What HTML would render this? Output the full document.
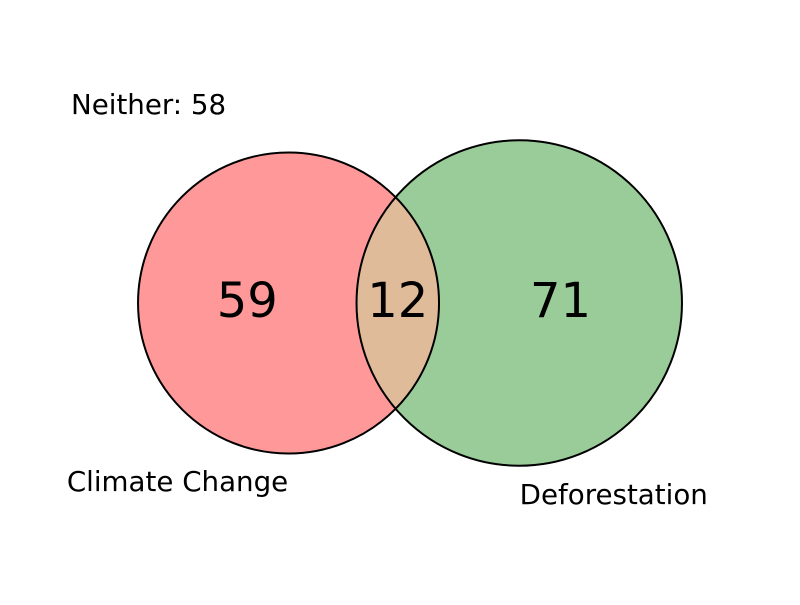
<!DOCTYPE html>
<html><head><meta charset="utf-8"><style>
html,body{margin:0;padding:0;background:#fff}
svg text{font-family:"DejaVu Sans","Liberation Sans",sans-serif;fill:#000}
</style></head><body>
<svg id="chart" width="800" height="600" viewBox="0 0 800 600"></svg>
<script>
const setLabels = ["Climate Change", "Deforestation"];
const regionCounts = [59, 12, 71]; // A only, both, B only
const neitherCount = 58;

const NS = "http://www.w3.org/2000/svg";
const svg = document.getElementById("chart");
function mk(tag, attrs){const e=document.createElementNS(NS,tag);for(const k in attrs)e.setAttribute(k,attrs[k]);svg.appendChild(e);return e;}

const totalA = regionCounts[0] + regionCounts[1];
const totalB = regionCounts[2] + regionCounts[1];
const k = 150.5 / Math.sqrt(71);
const rA = k * Math.sqrt(totalA);
const rB = k * Math.sqrt(totalB);
const overlapW = 82.5 * Math.sqrt(Math.max(regionCounts[1], 0) / 12);
const d = rA + rB - overlapW;
const cy = 303;
const cxA = 410 - (d + rB - rA) / 2;
const cxB = cxA + d;

const defs = mk("defs", {});
const cp = document.createElementNS(NS, "clipPath"); cp.setAttribute("id", "clipA"); defs.appendChild(cp);
const cc = document.createElementNS(NS, "circle"); cc.setAttribute("cx", cxA); cc.setAttribute("cy", cy); cc.setAttribute("r", rA); cp.appendChild(cc);

const cA = mk("circle", {cx: cxA, cy: cy, r: rA, fill: "#ff9999", stroke: "none"});


const cB = mk("circle", {cx: cxB, cy: cy, r: rB, fill: "#99cc99", stroke: "none"});


const ov = mk("circle", {cx: cxB, cy: cy, r: rB, fill: "#dfbb99", "clip-path": "url(#clipA)"});


const oA = mk("circle", {cx: cxA, cy: cy, r: rA, fill: "none", stroke: "#000", "stroke-width": 2});


const oB = mk("circle", {cx: cxB, cy: cy, r: rB, fill: "none", stroke: "#000", "stroke-width": 2});



const aL = cxA - rA, aR = cxA + rA, bL = cxB - rB, bR = cxB + rB;
const xs = [(aL + bL) / 2, (bL + aR) / 2, (aR + bR) / 2];
const names = ["count-climate-only", "count-both", "count-deforestation-only"];
regionCounts.forEach((v, i) => {
  const t = mk("text", {x: xs[i], y: cy + 14, "text-anchor": "middle", "font-size": 48});
  t.textContent = v;
  
  
});

const lA = mk("text", {x: cxA - 111, y: 491, "text-anchor": "middle", "font-size": 27.7});
lA.textContent = setLabels[0];


const lB = mk("text", {x: cxB + 94.5, y: 504, "text-anchor": "middle", "font-size": 27.7});
lB.textContent = setLabels[1];


const nt = mk("text", {x: 71, y: 114, "font-size": 27.7});
nt.textContent = "Neither: " + neitherCount;


</script>
</body></html>
